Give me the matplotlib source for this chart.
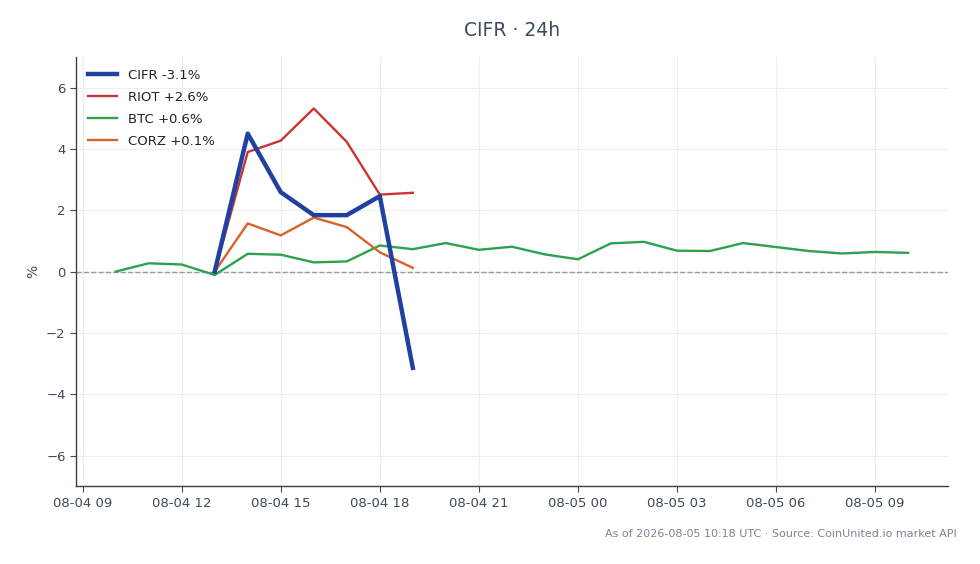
import numpy as np
import pandas as pd
import matplotlib
matplotlib.use('Agg')
import matplotlib.pyplot as plt
import matplotlib.dates as mdates

# hourly timestamps
btc_times = pd.date_range('2026-08-04 10:00', '2026-08-05 10:00', freq='1h')
stock_times = pd.date_range('2026-08-04 13:00', '2026-08-04 19:00', freq='1h')

btc = [0.0, 0.27, 0.23, -0.11, 0.58, 0.55, 0.30, 0.33, 0.85, 0.73, 0.93, 0.71,
       0.81, 0.56, 0.40, 0.92, 0.97, 0.68, 0.67, 0.93, 0.80, 0.67, 0.59, 0.64, 0.61]
cifr = [0.0, 4.50, 2.59, 1.84, 1.84, 2.46, -3.14]
riot = [0.0, 3.90, 4.27, 5.32, 4.23, 2.51, 2.57]
corz = [0.0, 1.57, 1.18, 1.76, 1.45, 0.63, 0.12]

labels = ['CIFR -3.1%', 'RIOT +2.6%', 'BTC +0.6%', 'CORZ +0.1%']
colors = ['#2141a0', '#cc3333', '#2ca24e', '#d9622b']

text_col = '#3d4a5c'

fig = plt.figure(figsize=(9.8, 5.64), dpi=100)
ax = fig.add_axes([0.0776, 0.138, 0.8894, 0.761])

ax.plot(stock_times, cifr, color=colors[0], lw=3.2, label=labels[0], zorder=5)
ax.plot(stock_times, riot, color=colors[1], lw=1.7, label=labels[1], zorder=4)
ax.plot(btc_times, btc, color=colors[2], lw=1.7, label=labels[2], zorder=3)
ax.plot(stock_times, corz, color=colors[3], lw=1.7, label=labels[3], zorder=4)

ax.axhline(0, color='#8c9bb0', lw=1, ls='--', zorder=1)

ax.set_ylim(-7, 7)
ax.set_yticks([-6, -4, -2, 0, 2, 4, 6])
ax.set_yticklabels(['\u22126', '\u22124', '\u22122', '0', '2', '4', '6'])
ax.xaxis.set_major_locator(mdates.HourLocator(byhour=range(0, 24, 3)))
ax.xaxis.set_major_formatter(mdates.DateFormatter('%m-%d %H'))

ax.grid(True, color='#eceef1', lw=0.8)
ax.set_axisbelow(True)
for s in ['top', 'right']:
    ax.spines[s].set_visible(False)
for s in ['left', 'bottom']:
    ax.spines[s].set_color('#36404e')
    ax.spines[s].set_linewidth(1.0)
ax.tick_params(colors=text_col, labelsize=9.5, length=4)

ax.set_ylabel('%', color=text_col, fontsize=10)
ax.set_title('CIFR \u00b7 24h', color=text_col, fontsize=13.5, pad=15)

leg = ax.legend(loc='upper left', frameon=False, fontsize=9.5, handlelength=2.2,
                borderaxespad=0.5, labelspacing=0.68)
for t in leg.get_texts():
    t.set_color('#222222')

fig.text(0.976, 0.045, 'As of 2026-08-05 10:18 UTC \u00b7 Source: CoinUnited.io market API',
         ha='right', va='bottom', fontsize=8, color='#7a8594')

fig.savefig('out.png', dpi=100)
